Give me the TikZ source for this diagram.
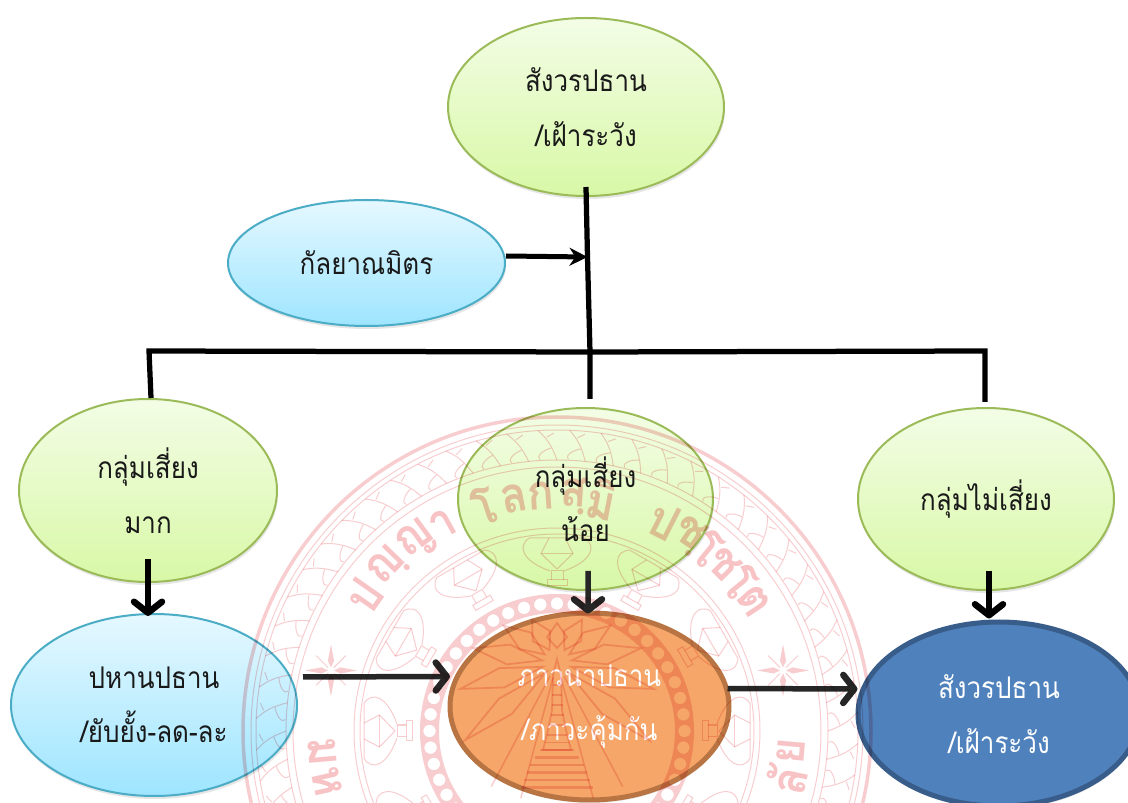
\documentclass[tikz,border=0pt]{standalone}
\usepackage{fontspec}
\newfontfamily\thaifont[Script=Thai,FakeStretch=0.87]{Loma}
\newfontfamily\sealfont[Script=Thai,FakeStretch=0.9]{Loma}
\usetikzlibrary{arrows.meta,shapes.geometric,shadows,calc}
\definecolor{sealpink}{HTML}{F8CDCF}
\tikzset{
	bubble/.style={ellipse,inner sep=0pt,align=center,text=black!90,
		font=\thaifont\fontsize{17}{31}\selectfont,
		drop shadow={shadow xshift=0.02cm,shadow yshift=-0.06cm,opacity=0.2}},
	greenbubble/.style={bubble,draw={rgb,255:red,155;green,187;blue,89},line width=0.04cm,top color={rgb,255:red,243;green,253;blue,230},bottom color={rgb,255:red,216;green,248;blue,166}},
	bluebubble/.style={bubble,draw={rgb,255:red,75;green,172;blue,198},line width=0.04cm,top color={rgb,255:red,229;green,248;blue,255},bottom color={rgb,255:red,158;green,229;blue,255}},
	solidbubble/.style={bubble,line width=0.1cm,text=white},
	trunk/.style={line width=0.105cm,black},
	flow/.style={line width=0.11cm,black!85,-{Straight Barb[round,length=0.22cm,width=0.56cm,line width=0.13cm]}},
	sealline/.style={draw=sealpink,line width=0.02cm},
	sealtext/.style={text=sealpink!95!red,inner sep=0pt,font=\sealfont\bfseries\fontsize{28}{28}\selectfont},
}

\begin{document}
\begin{tikzpicture}
\clip (0,0) rectangle (22.56,16.04);

%ovals
\node[greenbubble,minimum width=5.52cm,minimum height=3.56cm] (guardtop) at (11.72,13.9) {สังวรปธาน\\/เฝ้าระวัง};
\node[bluebubble,minimum width=5.54cm,minimum height=2.52cm] (friend) at (7.33,10.78) {กัลยาณมิตร};
\node[greenbubble,minimum width=5.16cm,minimum height=3.66cm] (highrisk) at (2.96,6.23) {กลุ่มเสี่ยง\\มาก};
\node[greenbubble,minimum width=5.1cm,minimum height=3.64cm] (lowrisk) at (11.71,6.06) {กลุ่มเสี่ยง\\น้อย};
\node[greenbubble,minimum width=5.12cm,minimum height=3.64cm] (norisk) at (19.72,6.06) {กลุ่มไม่เสี่ยง};
\node[bluebubble,minimum width=5.72cm,minimum height=3.64cm] (abandon) at (3.08,1.94) {ปหานปธาน\\/ยับยั้ง-ลด-ละ};
\node[solidbubble,draw={rgb,255:red,184;green,116;blue,66},fill={rgb,255:red,245;green,166;blue,104},minimum width=5.58cm,minimum height=3.74cm] (develop) at (11.79,1.91) {ภาวนาปธาน\\/ภาวะคุ้มกัน};
\node[solidbubble,draw={rgb,255:red,56;green,93;blue,138},fill={rgb,255:red,79;green,129;blue,189},minimum width=5.64cm,minimum height=3.68cm] (guardend) at (19.98,1.76) {สังวรปธาน\\/เฝ้าระวัง};

%tree lines
\coordinate (trunkin) at (11.75,10.9);
\coordinate (barmid) at (11.8,9);
\coordinate (barleft) at (2.98,9.02);
\coordinate (barright) at (19.7,9.02);

\draw[trunk] ([yshift=0.2cm]guardtop.south) -- (trunkin) -- (barmid) -- ([xshift=0.09cm,yshift=0.16cm]lowrisk.north);
\draw[trunk] ([xshift=0.06cm]highrisk.north) -- (barleft) -- (barmid) -- (barright) -- ([xshift=-0.02cm,yshift=0.1cm]norisk.north);
\draw[line width=0.1cm,black,-{Stealth[length=0.36cm,width=0.36cm]}] ([yshift=0.14cm]friend.east) -- (trunkin);

%arrows
\draw[flow,black] ([yshift=0.48cm]highrisk.south) -- ([xshift=-0.12cm,yshift=-0.06cm]abandon.north);
\draw[flow] ([xshift=0.05cm,yshift=0.4cm]lowrisk.south) -- ([xshift=-0.03cm,yshift=-0.06cm]develop.north);
\draw[flow,black] ([xshift=0.06cm,yshift=0.4cm]norisk.south) -- ([xshift=-0.2cm,yshift=0.02cm]guardend.north);
\draw[flow] ([xshift=0.1cm,yshift=0.56cm]abandon.east) -- ([xshift=0.05cm,yshift=0.6cm]develop.west);
\draw[flow] ([xshift=-0.08cm,yshift=0.36cm]develop.east) -- ([xshift=0.04cm,yshift=0.5cm]guardend.west);

%seal
\begin{scope}[shift={(11.14,1.42)},blend mode=multiply]
\draw[sealpink,line width=0.07cm] (0,0) circle (6.28);
\foreach \r in {6.12,6.02,5.42,5.28,4.06,3.94}
\draw[sealline] (0,0) circle (\r);

%kanok band
\foreach \a in {0,6,...,354}{
\draw[sealline] (\a:5.42) .. controls (\a+0.8:5.62) and (\a+1.4:5.8) .. (\a+3.6:6.02);
\draw[sealline] (\a+1.2:5.66) .. controls (\a+3:5.62) and (\a+4.4:5.5) .. (\a+3.6:5.44);
\draw[sealline] (\a+2:5.88) -- (\a+0.6:5.96);
}

%dots
\fill[sealpink,even odd rule] (0,0) circle (2.74) (0,0) circle (2.36)
foreach \a in {0,7.5,...,352.5}{(\a:2.55) circle (0.125)};

%lotus band
\foreach \a in {0,30,...,330}{
\begin{scope}[rotate=\a]
\draw[sealline] (2.9,-0.2) -- (3.02,-0.2) -- (3.02,0.2) -- (2.9,0.2) -- cycle;
\draw[sealline] (3.02,-0.12) -- (3.2,-0.12) -- (3.2,0.12) -- (3.02,0.12);
\draw[sealline] (3.2,-0.14) .. controls (3.4,-0.7) and (3.7,-0.8) .. (3.86,-0.55) -- (3.86,0.55) .. controls (3.7,0.8) and (3.4,0.7) .. (3.2,0.14);
\draw[sealline] (3.24,0) -- (3.55,-0.32) -- (3.86,-0.16);
\draw[sealline] (3.24,0) -- (3.55,0.32) -- (3.86,0.16);
\draw[sealline] (3.55,-0.32) -- (3.55,0.32);
\end{scope}
}

%stars
\foreach \a in {165,15}{
\begin{scope}[shift={(\a:4.68)}]
\foreach \b in {0,90,180,270}
\fill[sealpink] (\b:0.06) -- (\b+18:0.2) -- (\b:0.52) -- (\b-18:0.2) -- cycle;
\foreach \b in {45,135,225,315}
\draw[sealline] (\b:0.08) -- (\b:0.42);
\end{scope}
}

%rays
\begin{scope}[shift={(0,1.36)}]
\foreach \a/\l in {90/0.8,60/1,35/1.3,10/1.7,-15/2,-40/2.4,120/1,145/1.3,170/1.7,195/2,220/2.4}{
\begin{scope}[rotate=\a]
\draw[sealpink,line width=0.035cm] (0.3,0) -- (0.52*\l+0.1,0.2) -- (\l,0) -- (0.52*\l+0.1,-0.2) -- cycle;
\end{scope}
}
\foreach \a/\l in {-62/2.8,-75/2.8,-105/2.8,-118/2.8}
\draw[sealpink,line width=0.03cm] (\a:0.3) -- (\a:\l);
\end{scope}

%chedi
\draw[sealpink,line width=0.035cm] (0,1.44) -- (0.08,1.12) -- (0.1,0.42) -- (0.18,0.02) -- (0.28,-0.38) -- (-0.28,-0.38) -- (-0.18,0.02) -- (-0.1,0.42) -- (-0.08,1.12) -- cycle;
\foreach \y/\w in {0.92/0.09,0.72/0.1,0.52/0.11,0.32/0.13,0.12/0.16,-0.08/0.2,-0.23/0.24}
\draw[sealpink,line width=0.03cm] (-\w,\y) -- (\w,\y);
\foreach \y/\w in {-0.38/0.34,-0.53/0.44,-0.68/0.54,-0.83/0.6,-0.98/0.66,-1.13/0.72}
\draw[sealpink,line width=0.05cm] (-\w,\y) -- (\w,\y);

%motto, letter by letter
\foreach \a/\t in {145/ป,136/ญฺ,126.5/ญ,119/า,108/โ,100.5/ล,94/ก,86/สฺ,79/มิ,63/ป,56/ชฺ,50.5/โ,45/ช,39/โ,33.5/ต}
\node[sealtext,rotate=\a-90] (motto\a) at (\a:4.72) {\t};
\foreach \a/\t in {185/ม,192.5/ห,-5/ย,-12/ลั}
\node[sealtext,rotate=\a+90] (motto\a) at (\a:4.7) {\t};
\end{scope}

\end{tikzpicture}
\end{document}
